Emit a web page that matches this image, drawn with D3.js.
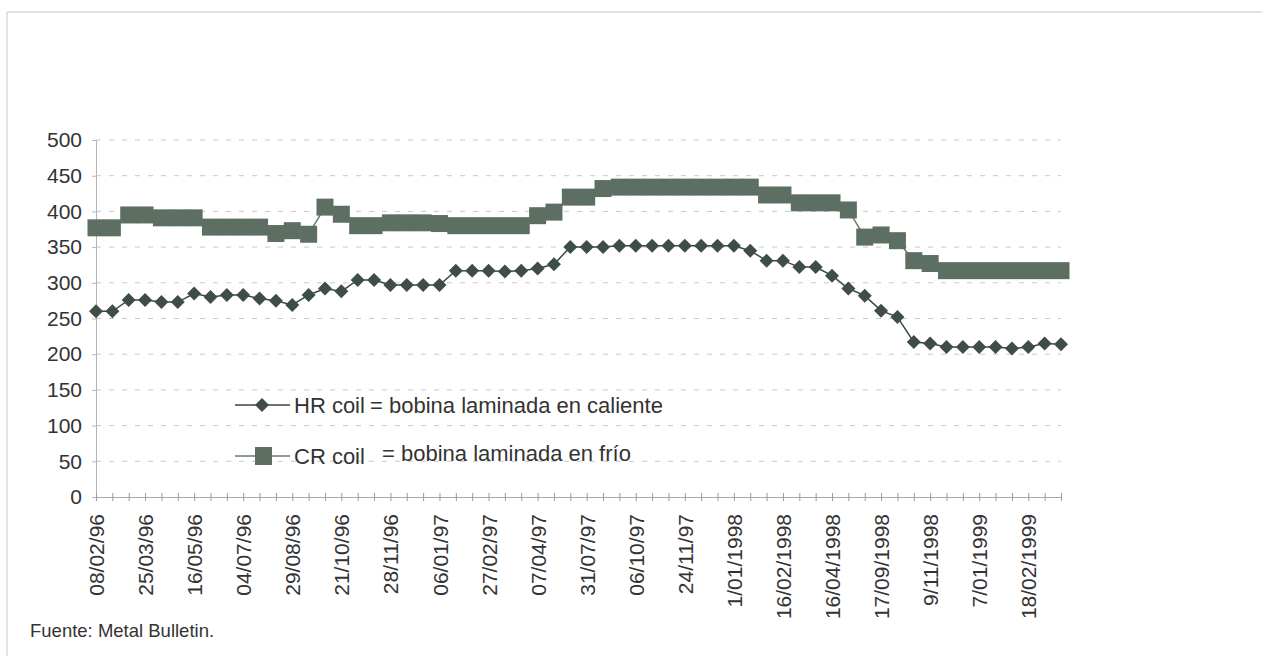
<!DOCTYPE html>
<html>
<head>
<meta charset="utf-8">
<script src="https://cdn.jsdelivr.net/npm/d3@7"></script>
<style>
  html, body { margin: 0; background: #fff; overflow: hidden; }
  svg { display: block; }
  svg text { font-family: "Liberation Sans", Arial, sans-serif; fill: #333; }
</style>
</head>
<body>
<div id="chart"></div>
<script>
// weekly-ish observations, only every 3rd one carries a label on the axis
const tickLabels = ["08/02/96","25/03/96","16/05/96","04/07/96","29/08/96","21/10/96","28/11/96",
  "06/01/97","27/02/97","07/04/97","31/07/97","06/10/97","24/11/97","1/01/1998","16/02/1998",
  "16/04/1998","17/09/1998","9/11/1998","7/01/1999","18/02/1999"];

const hrCoil = [260,260,276,276,273,273,285,280,283,283,
  278,275,269,283,292,288,304,304,297,297,
  297,297,317,317,317,316,317,320,326,350,
  350,350,352,352,352,352,352,352,352,352,
  345,331,331,322,322,310,292,282,261,252,
  217,215,210,210,210,210,208,210,215,214];

const crCoil = [377,377,395,395,391,391,391,378,378,378,
  378,369,373,368,406,396,380,380,384,384,
  384,383,380,380,380,380,380,394,399,420,
  420,432,434,434,434,434,434,434,434,434,
  434,423,423,412,412,412,402,364,367,359,
  331,327,317,317,317,317,317,317,317,317];

const yTicks = [0,50,100,150,200,250,300,350,400,450,500];

const width = 1262, height = 656;
const plotL = 96, plotR = 1061, plotT = 140, plotB = 497;

const svg = d3.select("#chart").append("svg")
  .attr("width", width).attr("height", height);

// scanned page frame
svg.append("line").attr("x1", 7).attr("x2", 1262).attr("y1", 12).attr("y2", 12)
  .attr("stroke", "#d8d8d8").attr("stroke-width", 1.5);
svg.append("line").attr("x1", 7).attr("x2", 7).attr("y1", 12).attr("y2", 656)
  .attr("stroke", "#d8d8d8").attr("stroke-width", 1.5);

const x = d3.scalePoint().domain(d3.range(hrCoil.length)).range([plotL, plotR]);
const y = d3.scaleLinear().domain([0, 500]).range([plotB, plotT]);

// grid
svg.append("g").selectAll("line")
  .data(yTicks.filter(d => d > 0))
  .enter().append("line")
  .attr("x1", plotL).attr("x2", plotR)
  .attr("y1", d => y(d)).attr("y2", d => y(d))
  .attr("stroke", "#c8c8c8").attr("stroke-width", 1)
  .attr("stroke-dasharray", "5,8");

// y axis
const yAxis = svg.append("g")
  .attr("transform", "translate(" + plotL + ",0)")
  .call(d3.axisLeft(y).tickValues(yTicks).tickSize(4).tickPadding(10));
yAxis.select(".domain").attr("stroke", "#b5b5b5");
yAxis.selectAll(".tick line").attr("stroke", "#b5b5b5");
yAxis.selectAll("text").style("font-size", "21px").attr("fill", "#333");

// x axis
const xAxis = svg.append("g")
  .attr("transform", "translate(0," + plotB + ")")
  .call(d3.axisBottom(x).tickSizeOuter(0)
    .tickFormat(i => i % 3 === 0 ? tickLabels[i / 3] : ""));
xAxis.select(".domain").attr("stroke", "#a8a8a8");
xAxis.selectAll(".tick line").attr("y1", -4).attr("y2", 4).attr("stroke", "#9a9a9a");
xAxis.selectAll("text")
  .style("font-size", "21px").attr("fill", "#333")
  .attr("transform", "rotate(-90)")
  .attr("text-anchor", "end")
  .attr("x", -17).attr("y", 0).attr("dy", "0.36em");

// CR coil: big square markers that merge into bands
const crLine = d3.line().x((d, i) => x(i)).y(d => y(d));
svg.append("path").datum(crCoil)
  .attr("d", crLine).attr("fill", "none")
  .attr("stroke", "#6a786f").attr("stroke-width", 1.5);
svg.append("g").selectAll("rect")
  .data(crCoil).enter().append("rect")
  .attr("x", (d, i) => x(i) - 8.5).attr("y", d => y(d) - 8.5)
  .attr("width", 17).attr("height", 17)
  .attr("fill", "#5d6f63");

// HR coil: line with diamonds
const diamond = "M0,-7L7,0L0,7L-7,0Z";
svg.append("path").datum(hrCoil)
  .attr("d", d3.line().x((d, i) => x(i)).y(d => y(d)))
  .attr("fill", "none").attr("stroke", "#3a4840").attr("stroke-width", 1.5);
svg.append("g").selectAll("path")
  .data(hrCoil).enter().append("path")
  .attr("d", diamond)
  .attr("transform", (d, i) => "translate(" + x(i) + "," + y(d) + ")")
  .attr("fill", "#3e4e45");

// legend
const leg = svg.append("g");
leg.append("line").attr("x1", 235).attr("x2", 290).attr("y1", 405).attr("y2", 405)
  .attr("stroke", "#3a4840").attr("stroke-width", 1.5);
leg.append("path").attr("d", diamond).attr("transform", "translate(262,405)").attr("fill", "#3e4e45");
leg.append("text").attr("x", 294).attr("y", 405).attr("dy", "0.36em")
  .style("font-size", "22px").text("HR coil");
leg.append("text").attr("x", 370).attr("y", 405).attr("dy", "0.36em")
  .style("font-size", "22px").text("= bobina laminada en caliente");

leg.append("line").attr("x1", 235).attr("x2", 290).attr("y1", 456).attr("y2", 456)
  .attr("stroke", "#6a786f").attr("stroke-width", 1.5);
leg.append("rect").attr("x", 255).attr("y", 447).attr("width", 17).attr("height", 18)
  .attr("fill", "#5d6f63");
leg.append("text").attr("x", 294).attr("y", 456).attr("dy", "0.36em")
  .style("font-size", "22px").text("CR coil");
leg.append("text").attr("x", 382).attr("y", 453).attr("dy", "0.36em")
  .style("font-size", "22px").text("= bobina laminada en frío");

// source note
svg.append("text").attr("x", 30).attr("y", 637)
  .style("font-size", "18.5px").text("Fuente: Metal Bulletin.");
</script>
</body>
</html>
